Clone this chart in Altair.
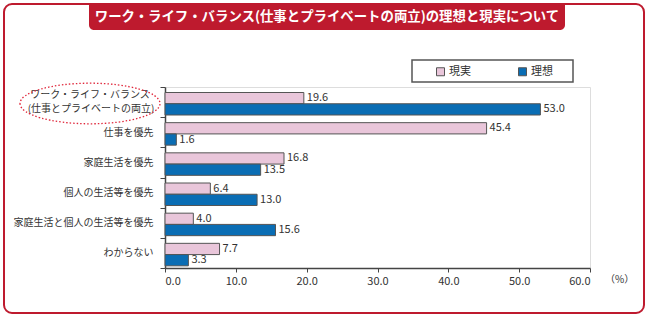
import altair as alt
import pandas as pd

# ---- data ----
categories = [
    "ワーク・ライフ・バランス|(仕事とプライベートの両立)",
    "仕事を優先",
    "家庭生活を優先",
    "個人の生活等を優先",
    "家庭生活と個人の生活等を優先",
    "わからない",
]
series = ["現実", "理想"]
reality = [19.6, 45.4, 16.8, 6.4, 4.0, 7.7]
ideal = [53.0, 1.6, 13.5, 13.0, 15.6, 3.3]
x_ticks = [0, 10, 20, 30, 40, 50, 60]
title_text = "ワーク・ライフ・バランス(仕事とプライベートの両立)の理想と現実について"
unit_label = "（%）"

rows = []
for c, r, i in zip(categories, reality, ideal):
    rows.append({"category": c, "series": series[0], "value": r})
    rows.append({"category": c, "series": series[1], "value": i})
df = pd.DataFrame(rows)
one = pd.DataFrame({"d": [0]})
first_lines = categories[0].split("|")
first_df = pd.DataFrame({
    "category": [categories[0], categories[0]],
    "line": first_lines,
    "idx": [0, 1],
})

FONT = "Noto Sans CJK JP"
PINK = "#e9c6da"
BLUE = "#0a6db4"
RED = "#be1a2e"
TXT = "#333333"

y_enc = alt.Y(
    "category:N",
    scale=alt.Scale(domain=categories, paddingInner=0, paddingOuter=0),
    axis=alt.Axis(
        title=None,
        labelExpr="indexof(datum.label, '|') >= 0 ? '' : datum.label",
        tickBand="extent",
        tickSize=5,
        tickColor="#444",
        domainColor="#444",
        domainWidth=1.5,
        labelPadding=7,
        labelFontSize=10,
        labelColor=TXT,
        labelLimit=300,
    ),
)
yoff_enc = alt.YOffset("series:N", scale=alt.Scale(domain=series, range=[5.5, 28]))
x_enc = alt.X(
    "value:Q",
    scale=alt.Scale(domain=[0, 60], nice=False),
    axis=alt.Axis(
        title=None,
        values=x_ticks,
        format=".1f",
        grid=False,
        tickSize=4,
        tickColor="#444",
        domainColor="#444",
        domainWidth=1.5,
        labelPadding=3,
        labelFontSize=11,
        labelColor=TXT,
    ),
)

base = alt.Chart(df)

bars = base.mark_bar(stroke="#555", strokeWidth=1).encode(
    x=x_enc,
    y=y_enc,
    yOffset=yoff_enc,
    color=alt.Color(
        "series:N",
        scale=alt.Scale(domain=series, range=[PINK, BLUE]),
        legend=alt.Legend(
            title=None,
            orient="none",
            legendX=270,
            legendY=-21,
            direction="horizontal",
            symbolType="square",
            symbolSize=64,
            symbolStrokeWidth=1,
            labelFontSize=11,
            labelColor=TXT,
            columnPadding=45,
            padding=0,
            labelOffset=3,
        ),
    ),
)

labels = base.mark_text(
    align="left", baseline="middle", dx=3, fontSize=11, color=TXT
).encode(
    x=alt.X("value:Q"),
    y=alt.Y("category:N"),
    yOffset=yoff_enc,
    text=alt.Text("value:Q", format=".1f"),
)

first_base = alt.Chart(first_df)
first_line1 = first_base.transform_filter("datum.idx == 0").mark_text(
    align="center", baseline="middle", fontSize=10, color=TXT, dy=-7,
).encode(x=alt.value(-75), y=alt.Y("category:N"), text="line:N")
first_line2 = first_base.transform_filter("datum.idx == 1").mark_text(
    align="center", baseline="middle", fontSize=10, color=TXT, dy=7,
).encode(x=alt.value(-74), y=alt.Y("category:N"), text="line:N")

frame = alt.Chart(one).mark_rect(
    fill="white", fillOpacity=0, stroke=RED, strokeWidth=2, cornerRadius=8
).encode(x=alt.value(-161), x2=alt.value(479), y=alt.value(-83), y2=alt.value(226))

banner = alt.Chart(one).mark_rect(
    fill=RED, cornerRadiusBottomLeft=5, cornerRadiusBottomRight=5
).encode(x=alt.value(-76), x2=alt.value(400), y=alt.value(-84), y2=alt.value(-57))

banner_text = alt.Chart(one).mark_text(
    text=title_text, color="white", fontSize=13.4, fontWeight="bold",
    align="center", baseline="middle",
).encode(x=alt.value(162), y=alt.value(-70))

legend_box = alt.Chart(one).mark_rect(
    fill="white", fillOpacity=0, stroke="#555", strokeWidth=1.5
).encode(x=alt.value(247), x2=alt.value(408), y=alt.value(-27), y2=alt.value(-5))

ellipse_path = "M -1 0 A 1 0.29 0 1 0 1 0 A 1 0.29 0 1 0 -1 0 Z"
ellipse = alt.Chart(one).mark_point(
    shape=ellipse_path, size=140 * 140, filled=False, stroke="#e0283c",
    strokeWidth=1.3, strokeDash=[1.5, 2], opacity=1,
).encode(x=alt.value(-75), y=alt.value(16.5))

unit = alt.Chart(one).mark_text(
    text=unit_label, fontSize=10, color=TXT, align="left", baseline="middle"
).encode(x=alt.value(440), y=alt.value(193))

chart = alt.layer(
    frame, banner, banner_text, legend_box, bars, labels,
    first_line1, first_line2, ellipse, unit
).properties(
    width=425,
    height=181,
    padding={"left": 165, "top": 87, "right": 60, "bottom": 53},
    autosize=alt.AutoSizeParams(type="none"),
).configure_view(stroke=None).configure(font=FONT)

chart.save("out.html", embed_options={"renderer": "svg", "actions": False})
